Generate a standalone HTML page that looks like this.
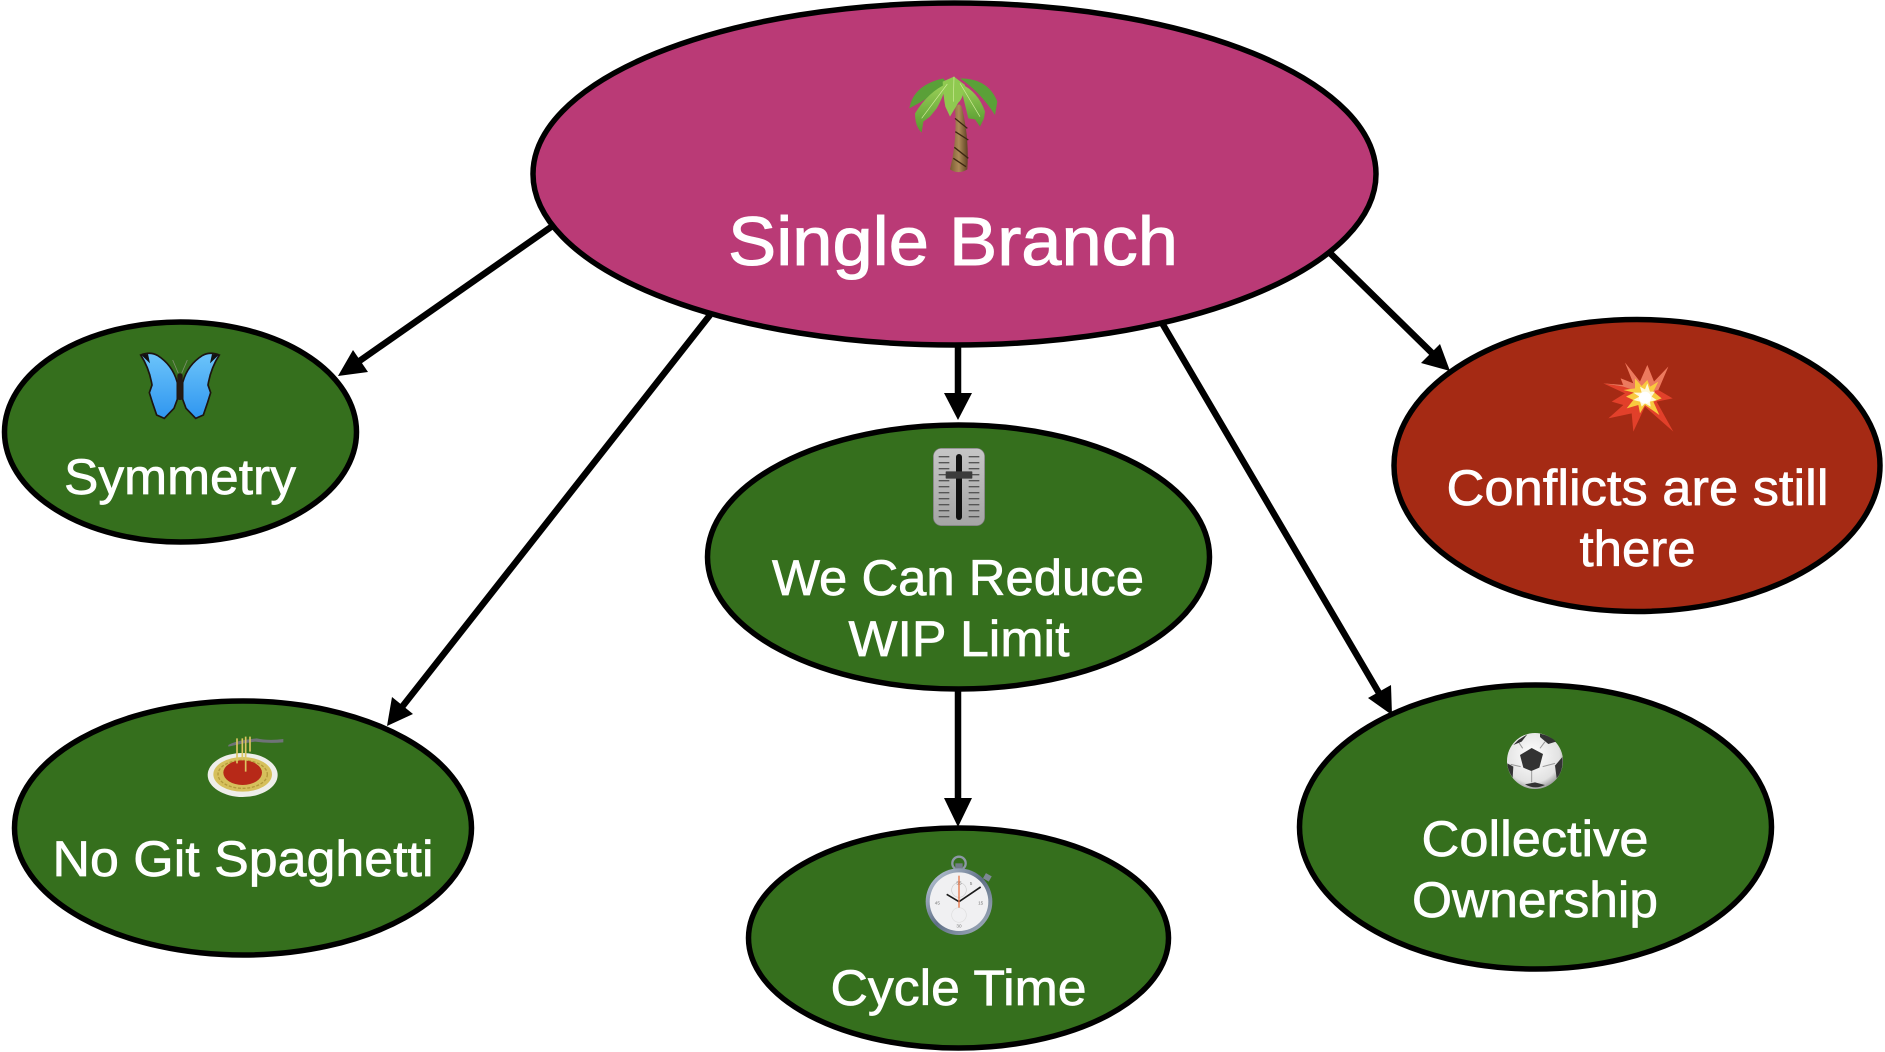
<!DOCTYPE html>
<html><head><meta charset="utf-8"><title>Single Branch</title>
<style>html,body{margin:0;padding:0;background:#fff;width:1885px;height:1052px;overflow:hidden}svg{display:block}text{font-family:"Liberation Sans",sans-serif;fill:#fff;font-size:50px;stroke:#fff;stroke-width:.7px}</style></head>
<body>
<svg width="1885" height="1052" viewBox="0 0 1885 1052" xmlns="http://www.w3.org/2000/svg">
<defs>
<linearGradient id="trunk" x1="0" x2="1" y1="0" y2="0"><stop offset="0" stop-color="#7a5a32"/><stop offset=".5" stop-color="#ad8a58"/><stop offset="1" stop-color="#5e4122"/></linearGradient>
<linearGradient id="leaf" x1="0" x2="0" y1="0" y2="1"><stop offset="0" stop-color="#9bd058"/><stop offset="1" stop-color="#569a30"/></linearGradient>
<linearGradient id="wing" x1="0" x2="0" y1="0" y2="1"><stop offset="0" stop-color="#6cc4fa"/><stop offset="1" stop-color="#2f96f0"/></linearGradient>
<radialGradient id="ballg" cx=".45" cy=".4" r=".65"><stop offset="0" stop-color="#fff"/><stop offset=".75" stop-color="#e2e2e2"/><stop offset="1" stop-color="#8a8a8a"/></radialGradient>
<linearGradient id="steel" x1="0" x2="1" y1="0" y2="1"><stop offset="0" stop-color="#c8d4e4"/><stop offset=".5" stop-color="#5f6f86"/><stop offset="1" stop-color="#aab6c4"/></linearGradient>
<linearGradient id="panel" x1="0" x2="0" y1="0" y2="1"><stop offset="0" stop-color="#c6c6c6"/><stop offset="1" stop-color="#a5a5a5"/></linearGradient>
</defs>

<!-- connectors -->
<g stroke="#000" stroke-width="6.5" fill="none">
<line x1="551" y1="227" x2="358" y2="362"/>
<line x1="710" y1="315" x2="402" y2="707"/>
<line x1="958" y1="345" x2="958" y2="395"/>
<line x1="958" y1="688" x2="958" y2="800"/>
<line x1="1162" y1="323" x2="1379" y2="693"/>
<line x1="1330" y1="253" x2="1433" y2="354"/>
</g>
<g fill="#000">
<polygon points="338,376 353,350 368,372"/>
<polygon points="387,726 392,697 413,714"/>
<polygon points="958,420 944,393 972,393"/>
<polygon points="958,827 944,798 972,798"/>
<polygon points="1392,715 1368,698 1391,685"/>
<polygon points="1450,371 1421,363 1440,344"/>
</g>

<!-- nodes -->
<g stroke="#000" stroke-width="5.5">
<ellipse cx="954.5" cy="174" rx="421.5" ry="171" fill="#ba3a76"/>
<ellipse cx="180.5" cy="432" rx="176" ry="110" fill="#356f1d"/>
<ellipse cx="243" cy="828" rx="228.5" ry="127" fill="#356f1d"/>
<ellipse cx="958.5" cy="557" rx="251" ry="132" fill="#356f1d"/>
<ellipse cx="958.5" cy="938" rx="210" ry="110" fill="#356f1d"/>
<ellipse cx="1535.5" cy="827" rx="236" ry="142" fill="#356f1d"/>
<ellipse cx="1637" cy="465.5" rx="243" ry="146" fill="#a52a14"/>
</g>

<!-- labels -->
<text x="728" y="265" textLength="450" lengthAdjust="spacingAndGlyphs" style="font-size:69px;stroke-width:1px">Single Branch</text>
<text x="64" y="494" textLength="232" lengthAdjust="spacingAndGlyphs">Symmetry</text>
<text x="52.5" y="876" textLength="381" lengthAdjust="spacingAndGlyphs">No Git Spaghetti</text>
<text x="772" y="595" textLength="372" lengthAdjust="spacingAndGlyphs">We Can Reduce</text>
<text x="848.5" y="656" textLength="221" lengthAdjust="spacingAndGlyphs">WIP Limit</text>
<text x="830.5" y="1005" textLength="256" lengthAdjust="spacingAndGlyphs">Cycle Time</text>
<text x="1421.5" y="856" textLength="227" lengthAdjust="spacingAndGlyphs">Collective</text>
<text x="1412" y="917" textLength="246" lengthAdjust="spacingAndGlyphs">Ownership</text>
<text x="1446.5" y="505" textLength="382" lengthAdjust="spacingAndGlyphs">Conflicts are still</text>
<text x="1579.5" y="566" textLength="116" lengthAdjust="spacingAndGlyphs">there</text>

<!-- palm -->
<g transform="translate(860,60) scale(.33333)">
<path d="M285 145 Q295 125 305 140 Q328 230 322 328 Q295 345 270 328 Q292 240 285 145Z" fill="url(#trunk)"/>
<path d="M285 175 L322 205 M286 215 L325 240 M283 262 L325 295 M280 295 L318 320" stroke="#3c2712" stroke-width="4" fill="none"/>
<path d="M148 145 Q160 75 250 55 L262 72 Q215 110 148 145Z" fill="#5aa038"/>
<path d="M300 55 Q385 55 412 125 L405 165 Q360 95 300 55Z" fill="#5aa038"/>
<path d="M165 160 Q205 95 262 70 Q245 120 230 145 L210 170 L190 185 L185 218 Q165 200 165 160Z" fill="url(#leaf)"/>
<path d="M300 70 Q355 95 375 155 L372 175 L360 200 L345 178 L325 175 Q315 135 300 70Z" fill="url(#leaf)"/>
<path d="M248 65 L282 50 L315 75 Q310 115 295 128 L270 170 L256 140 Q250 110 248 65Z" fill="#8fc950"/>
<path d="M282 50 L280 125 M262 72 L185 175 M300 70 L360 170" stroke="#cfeb98" stroke-width="2" fill="none"/>
</g>

<!-- butterfly -->
<g transform="translate(120,340) scale(.33333)">
<path d="M62 45 Q90 34 112 46 Q158 75 172 128 L172 178 L162 205 L133 235 L110 225 L98 190 L88 158 L96 135 Q88 85 62 45Z" fill="url(#wing)" stroke="#1d1410" stroke-width="5"/>
<path d="M298 45 Q270 34 248 46 Q202 75 188 128 L188 178 L198 205 L227 235 L250 225 L262 190 L272 158 L264 135 Q272 85 298 45Z" fill="url(#wing)" stroke="#1d1410" stroke-width="5"/>
<path d="M64 45 L84 42 L90 70 Z M296 45 L276 42 L270 70 Z" fill="#111"/>
<rect x="172" y="100" width="16" height="80" rx="7" fill="#241a14"/>
<path d="M175 100 L158 60 M185 100 L202 60" stroke="#7c8d6c" stroke-width="2.5" fill="none"/>
</g>

<!-- slider -->
<g transform="translate(900,430) scale(.33333)">
<rect x="100" y="55" width="154" height="232" rx="24" fill="url(#panel)" stroke="#777" stroke-width="2"/>
<g stroke="#555" stroke-width="4"><path d="M116 80H148M116 98H148M116 116H148M116 134H148M116 152H148M116 170H148M116 188H148M116 206H148M116 224H148M116 242H148M116 260H148"/><path d="M206 80H238M206 98H238M206 116H238M206 134H238M206 152H238M206 170H238M206 188H238M206 206H238M206 224H238M206 242H238M206 260H238"/></g>
<rect x="168" y="72" width="18" height="198" rx="9" fill="#111"/>
<rect x="137" y="124" width="80" height="22" rx="2" fill="#3c3c3c"/>
</g>

<!-- explosion -->
<g transform="translate(1590,350) scale(.33333)">
<polygon points="105,38 150,95 172,45 192,95 235,50 205,120 248,145 200,155 250,245 165,170 130,245 125,190 55,205 100,165 65,155 105,130 40,100 100,110 92,85 130,100" fill="#e2402a"/>
<polygon points="105,38 150,95 172,45 192,95 235,50 205,120 160,130 100,110 40,100 100,105 92,85 130,100" fill="#ec7a5e"/>
<polygon points="135,85 155,108 172,90 180,110 205,95 190,125 215,145 190,155 208,195 165,165 150,190 145,165 110,175 130,150 108,140 132,128 100,120 135,115" fill="#f8c93f"/>
<polygon points="150,110 165,118 172,100 180,125 195,125 185,140 200,150 180,155 182,170 165,160 155,170 150,155 130,150 148,140 130,128 155,128" fill="#fff8d8"/>
<circle cx="165" cy="143" r="18" fill="#fff"/>
</g>

<!-- spaghetti -->
<g transform="translate(195,725) scale(.33333)">
<path d="M100 60 Q120 48 170 42 L185 40 Q220 48 265 42 L265 52 Q220 56 180 50 Q140 55 100 65Z" fill="#6f7378"/>
<ellipse cx="143" cy="150" rx="105" ry="66" fill="#eeeeea"/>
<ellipse cx="143" cy="148" rx="88" ry="52" fill="#d6c05c"/>
<ellipse cx="143" cy="148" rx="74" ry="42" fill="none" stroke="#b49a3b" stroke-width="4" stroke-dasharray="9 5"/>
<ellipse cx="143" cy="143" rx="58" ry="37" fill="#b72918"/>
<path d="M126 40V115M142 40V100M152 35V140M165 35V80" stroke="#dcc561" stroke-width="5" fill="none"/>
</g>

<!-- stopwatch -->
<g transform="translate(910,845) scale(.33333)">
<circle cx="147" cy="55" r="20" fill="none" stroke="#8d98a6" stroke-width="7"/>
<rect x="136" y="55" width="22" height="22" fill="#727c88"/>
<rect x="222" y="88" width="20" height="18" transform="rotate(30 232 97)" fill="#7d8894"/>
<circle cx="147" cy="170" r="100" fill="url(#steel)"/>
<circle cx="147" cy="170" r="88" fill="#f0f0f2"/>
<circle cx="147" cy="135" r="22" fill="none" stroke="#ccc" stroke-width="2"/>
<circle cx="147" cy="210" r="22" fill="none" stroke="#ddd" stroke-width="2"/>
<text x="147" y="118" text-anchor="middle" style="font-size:14px;fill:#777;stroke:none">55</text>
<text x="183" y="120" text-anchor="middle" style="font-size:14px;fill:#777;stroke:none">5</text>
<text x="82" y="178" text-anchor="middle" style="font-size:14px;fill:#777;stroke:none">45</text>
<text x="212" y="178" text-anchor="middle" style="font-size:14px;fill:#777;stroke:none">15</text>
<text x="147" y="248" text-anchor="middle" style="font-size:14px;fill:#777;stroke:none">30</text>
<path d="M147 170L110 148M147 170L212 126" stroke="#1a1a1a" stroke-width="5"/>
<path d="M147 92V188" stroke="#e8784a" stroke-width="4"/>
</g>

<!-- ball -->
<g transform="translate(1490,725) scale(.33333)">
<circle cx="135" cy="108" r="84" fill="url(#ballg)"/>
<g stroke="#9a9a9a" stroke-width="3" fill="none"><path d="M98 70L85 50M150 70L165 50M92 125L62 118M158 125L195 115M125 138V172"/></g>
<polygon points="125,69 159,87 148,128 124,138 100,128 90,90" fill="#333"/>
<path d="M150 26Q180 32 198 50L175 57L150 36Z" fill="#333"/>
<path d="M112 28L85 45L70 60L95 50Z" fill="#333"/>
<path d="M217 96Q222 135 200 160L195 122Z" fill="#333"/>
<path d="M52 115Q52 135 68 158L70 125Z" fill="#333"/>
<path d="M105 178L135 172L165 180Q135 195 105 178Z" fill="#333"/>
</g>
</svg>
</body></html>
